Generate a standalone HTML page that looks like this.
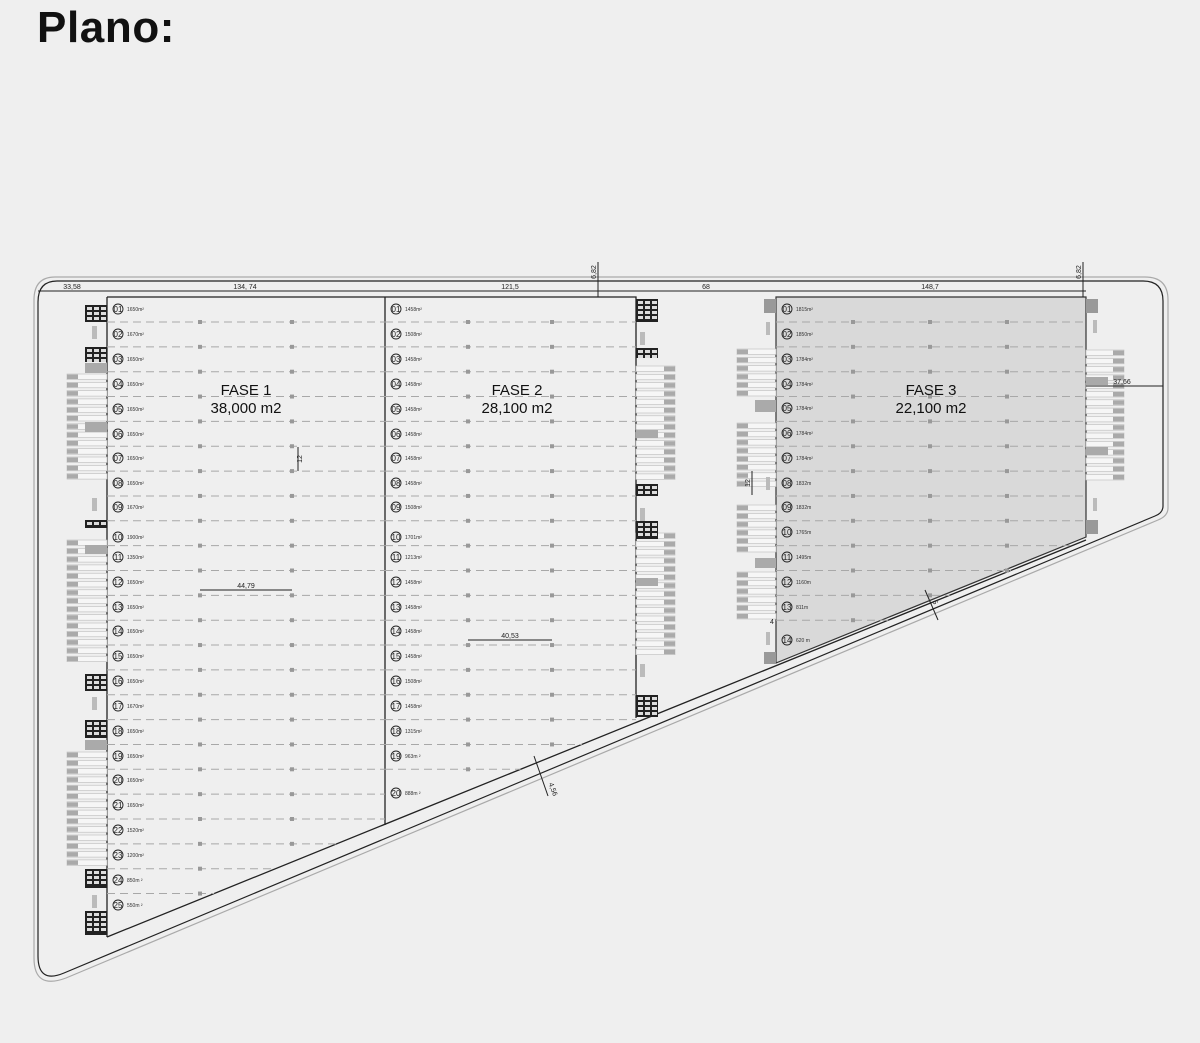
<!DOCTYPE html>
<html><head><meta charset="utf-8"><style>
html,body{margin:0;padding:0;background:#efefef;}
body{width:1200px;height:1043px;position:relative;overflow:hidden;font-family:"Liberation Sans",sans-serif;}
h1{position:absolute;left:37px;top:3px;margin:0;font-size:44px;font-weight:bold;color:#111;letter-spacing:0.6px;}
svg{position:absolute;left:0;top:0;}
.lb{font-size:5px;fill:#333;}
.n{font-size:8px;fill:#222;text-anchor:middle;}
.big{font-size:15px;fill:#111;text-anchor:middle;}
.dim{font-size:7px;fill:#222;text-anchor:middle;}
</style></head><body>
<h1>Plano:</h1>
<svg width="1200" height="1043" viewBox="0 0 1200 1043" xmlns="http://www.w3.org/2000/svg">
<path d="M55,277 L1145,277 Q1168,277 1168,300 L1168,508 Q1168,516 1158,520 L66,978 Q34,990 34,958 L34,300 Q34,277 55,277 Z" fill="none" stroke="#aaa" stroke-width="1.2"/>
<path d="M57,281 L1143,281 Q1163,281 1163,301 L1163,506 Q1163,513 1155,516 L64,973 Q38,984 38,956 L38,302 Q38,281 57,281 Z" fill="none" stroke="#222" stroke-width="1.2"/>
<path d="M776,297 L1086,297 L1086,537 L776,663 Z" fill="#d9d9d9" stroke="#333" stroke-width="1.2"/>
<path d="M107,297 L636,297 L636,718" fill="none" stroke="#222" stroke-width="1.3"/>
<path d="M107,297 L107,937" fill="none" stroke="#222" stroke-width="1.3"/>
<line x1="385" y1="297" x2="385" y2="825" stroke="#222" stroke-width="1.3"/>
<line x1="107" y1="937" x2="1086" y2="540" stroke="#222" stroke-width="1.3"/>
<g id="deco"></g>
<line x1="38" y1="291" x2="1086" y2="291" stroke="#222" stroke-width="1"/>
<line x1="598" y1="262" x2="598" y2="297" stroke="#222" stroke-width="1"/>
<line x1="1083" y1="262" x2="1083" y2="297" stroke="#222" stroke-width="1"/>
<line x1="1086" y1="386" x2="1163" y2="386" stroke="#222" stroke-width="1"/>
<line x1="298" y1="447" x2="298" y2="471" stroke="#222" stroke-width="1"/>
<line x1="200" y1="590" x2="292" y2="590" stroke="#222" stroke-width="1"/>
<line x1="468" y1="640" x2="552" y2="640" stroke="#222" stroke-width="1"/>
<line x1="752" y1="471" x2="752" y2="495" stroke="#222" stroke-width="1"/>
<line x1="534" y1="756" x2="548" y2="796" stroke="#222" stroke-width="1"/>
<line x1="925" y1="590" x2="938" y2="620" stroke="#222" stroke-width="1"/>
<text class="dim" x="72" y="289">33,58</text>
<text class="dim" x="245" y="289">134, 74</text>
<text class="dim" x="510" y="289">121,5</text>
<text class="dim" x="706" y="289">68</text>
<text class="dim" x="930" y="289">148,7</text>
<text class="dim" x="1122" y="384">37,66</text>
<text class="dim" x="246" y="588">44,79</text>
<text class="dim" x="510" y="638">40,53</text>
<text class="dim" transform="translate(596,272) rotate(-90)">6,82</text>
<text class="dim" transform="translate(1081,272) rotate(-90)">6,82</text>
<text class="dim" transform="translate(302,459) rotate(-90)">12</text>
<text class="dim" transform="translate(750,483) rotate(-90)">12</text>
<text class="dim" transform="translate(551,790) rotate(70)">4,56</text>
<text class="dim" transform="translate(933,603) rotate(70)">5</text>
<text class="dim" x="772" y="624">4</text>
<text class="big" x="246" y="395">FASE 1</text><text class="big" x="246" y="413">38,000 m2</text>
<text class="big" x="517" y="395">FASE 2</text><text class="big" x="517" y="413">28,100 m2</text>
<text class="big" x="931" y="395">FASE 3</text><text class="big" x="931" y="413">22,100 m2</text>
<g>
<text class="lb" x="127" y="311">1650m²</text><text class="lb" x="127" y="336">1670m²</text><text class="lb" x="127" y="361">1650m²</text><text class="lb" x="127" y="386">1650m²</text><text class="lb" x="127" y="411">1650m²</text><text class="lb" x="127" y="436">1650m²</text><text class="lb" x="127" y="460">1650m²</text><text class="lb" x="127" y="485">1650m²</text><text class="lb" x="127" y="509">1670m²</text><text class="lb" x="127" y="539">1900m²</text><text class="lb" x="127" y="559">1350m²</text><text class="lb" x="127" y="584">1650m²</text><text class="lb" x="127" y="609">1650m²</text><text class="lb" x="127" y="633">1650m²</text><text class="lb" x="127" y="658">1650m²</text><text class="lb" x="127" y="683">1650m²</text><text class="lb" x="127" y="708">1670m²</text><text class="lb" x="127" y="733">1650m²</text><text class="lb" x="127" y="758">1650m²</text><text class="lb" x="127" y="782">1650m²</text><text class="lb" x="127" y="807">1650m²</text><text class="lb" x="127" y="832">1520m²</text><text class="lb" x="127" y="857">1200m²</text><text class="lb" x="127" y="882">850m ²</text><text class="lb" x="127" y="907">550m ²</text>
</g>
<g>
<text class="n" x="118" y="312">01</text><text class="n" x="118" y="337">02</text><text class="n" x="118" y="362">03</text><text class="n" x="118" y="387">04</text><text class="n" x="118" y="412">05</text><text class="n" x="118" y="437">06</text><text class="n" x="118" y="461">07</text><text class="n" x="118" y="486">08</text><text class="n" x="118" y="510">09</text><text class="n" x="118" y="540">10</text><text class="n" x="118" y="560">11</text><text class="n" x="118" y="585">12</text><text class="n" x="118" y="610">13</text><text class="n" x="118" y="634">14</text><text class="n" x="118" y="659">15</text><text class="n" x="118" y="684">16</text><text class="n" x="118" y="709">17</text><text class="n" x="118" y="734">18</text><text class="n" x="118" y="759">19</text><text class="n" x="118" y="783">20</text><text class="n" x="118" y="808">21</text><text class="n" x="118" y="833">22</text><text class="n" x="118" y="858">23</text><text class="n" x="118" y="883">24</text><text class="n" x="118" y="908">25</text>
</g>
<g>
<text class="lb" x="405" y="311">1458m²</text><text class="lb" x="405" y="336">1508m²</text><text class="lb" x="405" y="361">1458m²</text><text class="lb" x="405" y="386">1458m²</text><text class="lb" x="405" y="411">1458m²</text><text class="lb" x="405" y="436">1458m²</text><text class="lb" x="405" y="460">1458m²</text><text class="lb" x="405" y="485">1458m²</text><text class="lb" x="405" y="509">1508m²</text><text class="lb" x="405" y="539">1701m²</text><text class="lb" x="405" y="559">1213m²</text><text class="lb" x="405" y="584">1458m²</text><text class="lb" x="405" y="609">1458m²</text><text class="lb" x="405" y="633">1458m²</text><text class="lb" x="405" y="658">1458m²</text><text class="lb" x="405" y="683">1508m²</text><text class="lb" x="405" y="708">1458m²</text><text class="lb" x="405" y="733">1315m²</text><text class="lb" x="405" y="758">963m ²</text><text class="lb" x="405" y="795">888m ²</text>
<text class="n" x="396" y="312">01</text><text class="n" x="396" y="337">02</text><text class="n" x="396" y="362">03</text><text class="n" x="396" y="387">04</text><text class="n" x="396" y="412">05</text><text class="n" x="396" y="437">06</text><text class="n" x="396" y="461">07</text><text class="n" x="396" y="486">08</text><text class="n" x="396" y="510">09</text><text class="n" x="396" y="540">10</text><text class="n" x="396" y="560">11</text><text class="n" x="396" y="585">12</text><text class="n" x="396" y="610">13</text><text class="n" x="396" y="634">14</text><text class="n" x="396" y="659">15</text><text class="n" x="396" y="684">16</text><text class="n" x="396" y="709">17</text><text class="n" x="396" y="734">18</text><text class="n" x="396" y="759">19</text><text class="n" x="396" y="796">20</text>
</g>
<g>
<text class="lb" x="796" y="311">1815m²</text><text class="lb" x="796" y="336">1850m²</text><text class="lb" x="796" y="361">1784m²</text><text class="lb" x="796" y="386">1784m²</text><text class="lb" x="796" y="410">1784m²</text><text class="lb" x="796" y="435">1784m²</text><text class="lb" x="796" y="460">1784m²</text><text class="lb" x="796" y="485">1832m</text><text class="lb" x="796" y="509">1832m</text><text class="lb" x="796" y="534">1765m</text><text class="lb" x="796" y="559">1495m</text><text class="lb" x="796" y="584">1160m</text><text class="lb" x="796" y="609">811m</text><text class="lb" x="796" y="642">620 m</text>
<text class="n" x="787" y="312">01</text><text class="n" x="787" y="337">02</text><text class="n" x="787" y="362">03</text><text class="n" x="787" y="387">04</text><text class="n" x="787" y="411">05</text><text class="n" x="787" y="436">06</text><text class="n" x="787" y="461">07</text><text class="n" x="787" y="486">08</text><text class="n" x="787" y="510">09</text><text class="n" x="787" y="535">10</text><text class="n" x="787" y="560">11</text><text class="n" x="787" y="585">12</text><text class="n" x="787" y="610">13</text><text class="n" x="787" y="643">14</text>
</g>
</svg>
<script>
(function(){
var g=document.getElementById('deco'),h='';
function dash(x1,x2,y,sq){h+='<line x1="'+x1+'" y1="'+y+'" x2="'+x2+'" y2="'+y+'" stroke="#a8a8a8" stroke-width="1" stroke-dasharray="8 5"/>';sq.forEach(function(x){h+='<rect x="'+(x-2)+'" y="'+(y-2)+'" width="4" height="4" fill="#999"/>';});}
function circ(x,y){h+='<circle cx="'+x+'" cy="'+y+'" r="5" fill="none" stroke="#222" stroke-width="0.9"/>';}
for(var k=0;k<24;k++){var y=322+24.85*k;var x2=Math.min(385,107+(937-y)/0.4055);dash(107,x2,y,[200,292].filter(function(x){return x<x2;}));}
[309,334,359,384,409,434,458,483,507,537,557,582,607,631,656,681,706,731,756,780,805,830,855,880,905].forEach(function(y){circ(118,y);});
for(var k=0;k<19;k++){var y=322+24.85*k;var x2=Math.min(636,107+(937-y)/0.4055);dash(385,x2,y,[468,552].filter(function(x){return x<x2;}));}
[309,334,359,384,409,434,458,483,507,537,557,582,607,631,656,681,706,731,756,793].forEach(function(y){circ(396,y);});
for(var k=0;k<13;k++){var y=322+24.85*k;var x2=Math.min(1086,107+(937-y)/0.4055);dash(776,x2,y,[853,930,1007].filter(function(x){return x<x2;}));}
[309,334,359,384,408,433,458,483,507,532,557,582,607,640].forEach(function(y){circ(787,y);});
function docks(x,w,y0,y1,dir){for(var y=y0;y<=y1;y+=8.3){h+='<rect x="'+x+'" y="'+y+'" width="'+w+'" height="5.5" fill="#f6f6f6" stroke="#bbb" stroke-width="0.6"/>';var bx=dir<0?x:x+w-11;h+='<rect x="'+bx+'" y="'+(y+0.5)+'" width="11" height="4.5" fill="#aaa"/>';}}
function blk(x,y,w,hh){h+='<rect x="'+x+'" y="'+y+'" width="'+w+'" height="'+hh+'" fill="#222"/>';for(var i=x+2;i<x+w-3;i+=7)for(var j=y+2;j<y+hh-2;j+=5)h+='<rect x="'+i+'" y="'+j+'" width="5" height="3" fill="#ddd"/>';}
function grey(x,y,w,hh){h+='<rect x="'+x+'" y="'+y+'" width="'+w+'" height="'+hh+'" fill="#aaa"/>';}
docks(67,40,374,480,-1);docks(67,40,540,664,-1);docks(67,40,752,862,-1);
blk(85,305,22,17);blk(85,347,22,15);blk(85,520,22,8);blk(85,674,22,17);blk(85,720,22,18);blk(85,869,22,19);blk(85,911,22,24);
grey(85,363,22,10);grey(85,422,22,10);grey(85,545,22,9);grey(85,740,22,10);
h+='<rect x="92" y="326" width="5" height="13" fill="#bbb"/><rect x="92" y="498" width="5" height="13" fill="#bbb"/><rect x="92" y="697" width="5" height="13" fill="#bbb"/><rect x="92" y="895" width="5" height="13" fill="#bbb"/>';
docks(636,39,366,476,1);docks(636,39,533,650,1);
blk(636,299,22,23);blk(636,348,22,10);blk(636,484,22,12);blk(636,521,22,18);blk(636,695,22,22);
grey(636,430,22,8);grey(636,578,22,8);
h+='<rect x="640" y="332" width="5" height="13" fill="#bbb"/><rect x="640" y="508" width="5" height="13" fill="#bbb"/><rect x="640" y="664" width="5" height="13" fill="#bbb"/>';
docks(737,39,349,393,-1);docks(737,39,423,485,-1);docks(737,39,505,550,-1);docks(737,39,572,616,-1);
grey(755,400,21,12);grey(755,558,21,10);
docks(1086,38,350,482,1);grey(1086,377,22,8);grey(1086,447,22,8);
h+='<rect x="764" y="299" width="12" height="14" fill="#999"/><rect x="1086" y="299" width="12" height="14" fill="#999"/><rect x="1086" y="520" width="12" height="14" fill="#999"/><rect x="764" y="652" width="12" height="12" fill="#999"/>';
h+='<rect x="766" y="322" width="4" height="13" fill="#bbb"/><rect x="1093" y="320" width="4" height="13" fill="#bbb"/><rect x="766" y="477" width="4" height="13" fill="#bbb"/><rect x="1093" y="498" width="4" height="13" fill="#bbb"/><rect x="766" y="632" width="4" height="13" fill="#bbb"/>';
g.innerHTML=h;
})();
</script>
</body></html>
